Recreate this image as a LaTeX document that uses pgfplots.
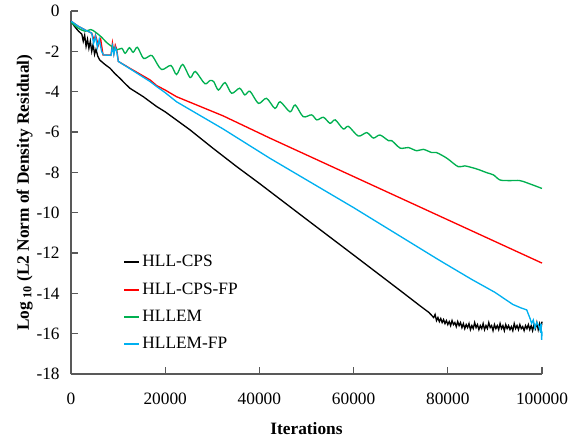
\documentclass[border=0pt]{standalone}
\usepackage{fontspec}
\setmainfont{Liberation Serif}
\usepackage{pgfplots}
\pgfplotsset{compat=1.18}
\definecolor{emgreen}{HTML}{00B050}
\definecolor{cblue}{RGB}{0,176,240}
\definecolor{cred}{RGB}{255,0,0}
\definecolor{axgray}{RGB}{89,89,89}
\begin{document}
\begin{tikzpicture}
\begin{axis}[
  scale only axis, width=353.25pt, height=272.25pt,
  xmin=0, xmax=100000, ymin=-18, ymax=0,
  axis lines*=left,
  axis line style={axgray, line width=1.1pt},
  tick align=inside,
  xtick pos=bottom, ytick pos=left,
  major tick length=5pt,
  tick style={axgray, line width=0.8pt},
  xtick={0,20000,40000,60000,80000,100000},
  xticklabels={0,20000,40000,60000,80000,100000},
  ytick={-18,-16,-14,-12,-10,-8,-6,-4,-2,0},
  yticklabels={-18,-16,-14,-12,-10,-8,-6,-4,-2,0},
  scaled x ticks=false,
  tick label style={font=\fontsize{13}{15}\selectfont, black},
  xticklabel style={yshift=-11pt},
  yticklabel style={xshift=-5pt},
  xlabel={Iterations},
  ylabel={Log\,\textsubscript{10} (L2 Norm of Density Residual)},
  label style={font=\fontsize{13}{15}\selectfont\bfseries},
  xlabel style={yshift=-6pt},
  ylabel style={yshift=-4pt},
  legend style={draw=none, fill=none, at={(0.11,0.335)}, anchor=north west,
    font=\fontsize{13}{15}\selectfont, row sep=6.5pt, inner sep=0pt},
  legend cell align=left,
  legend image code/.code={\draw[line width=1.5pt, #1] (0pt,0pt) -- (11pt,0pt);},
  clip=false,
]
\addlegendimage{draw=black}
\addlegendentry{HLL-CPS}
\addlegendimage{draw=cred}
\addlegendentry{HLL-CPS-FP}
\addlegendimage{draw=emgreen}
\addlegendentry{HLLEM}
\addlegendimage{draw=cblue}
\addlegendentry{HLLEM-FP}
\addplot[black, line width=1pt, forget plot] coordinates {
(0,-0.5) (800,-0.78) (1600,-1.0) (2300,-1.15) (2600,-1.5) (2900,-1.2) (3200,-1.75) (3500,-1.4)
(3800,-1.85) (4100,-1.5) (4400,-2.0) (4700,-1.65) (5000,-2.15) (5300,-1.9) (5700,-2.25) (6100,-2.43)
(7200,-2.65) (8300,-2.84) (9300,-3.1) (10400,-3.34) (11400,-3.58) (12500,-3.83) (14000,-4.05)
(15350,-4.25) (16800,-4.5) (18200,-4.74) (20000,-5.0) (25300,-5.9) (30000,-6.78) (35200,-7.72) (40000,-8.55)
(50000,-10.33) (60000,-12.1) (70000,-13.88) (74000,-14.6) (76000,-14.95)
(77000,-15.2) (77300,-15.05) (77600,-15.35) (77900,-15.2) (78200,-15.4) (78500,-15.25) (78800,-15.45)
(79100,-15.3) (79400,-15.5) (79700,-15.35) (80000,-15.55) (80300,-15.4) (80600,-15.6) (80900,-15.35)
(81200,-15.55) (81500,-15.45) (81800,-15.65) (82100,-15.4) (82400,-15.6) (82700,-15.45) (83000,-15.7)
(83300,-15.5) (83600,-15.75) (83900,-15.55) (84200,-15.7) (84500,-15.5) (84800,-15.8) (85100,-15.6)
(85400,-15.75) (85700,-15.45) (86000,-15.7) (86300,-15.55) (86600,-15.8) (86900,-15.6) (87200,-15.75)
(87500,-15.5) (87800,-15.8) (88100,-15.6) (88400,-15.75) (88700,-15.45) (89000,-15.7) (89300,-15.6)
(89600,-15.85) (89900,-15.55) (90200,-15.75) (90500,-15.6) (90800,-15.8) (91100,-15.5) (91400,-15.75)
(91700,-15.6) (92000,-15.85) (92300,-15.55) (92600,-15.75) (92900,-15.6) (93200,-15.8) (93500,-15.65)
(93800,-15.85) (94100,-15.5) (94400,-15.75) (94700,-15.6) (95000,-15.8) (95300,-15.55) (95600,-15.75)
(95900,-15.65) (96200,-15.85) (96500,-15.6) (96800,-15.75) (97100,-15.55) (97400,-15.8) (97700,-15.6)
(98000,-15.85) (98300,-15.55) (98600,-15.75) (98900,-15.45) (99200,-15.8) (99500,-15.5) (99800,-15.75)
(100000,-15.4)
};
\addplot[cred, line width=1pt, forget plot] coordinates {
(0,-0.5) (1500,-0.75) (3000,-0.94) (4400,-1.1) (4900,-1.45) (5200,-1.2) (5800,-1.7) (6300,-1.4)
(6800,-2.18) (8500,-2.18) (8800,-1.6) (9100,-2.1) (9400,-1.7) (9700,-1.9) (10050,-2.5)
(12500,-2.84) (16800,-3.42) (18200,-3.7) (20000,-3.92) (22400,-4.25) (32300,-5.2) (42200,-6.3) (100000,-12.5)
};
\addplot[emgreen, line width=1pt, smooth, tension=0.5, forget plot] coordinates {
(0,-0.55) (1500,-0.85) (3000,-1.0) (4200,-0.92) (5200,-1.05) (6500,-1.3) (7500,-1.55) (8600,-1.75)
(9800,-1.92) (10800,-1.85) (11500,-2.1) (12400,-1.82) (13200,-2.05) (14100,-1.8) (15400,-2.35)
(16900,-2.2) (17500,-2.3) (19200,-2.9) (21200,-2.7) (22400,-3.15) (23700,-2.65) (25300,-3.3)
(26400,-3.0) (28400,-3.6) (29500,-3.45) (30300,-3.5) (31300,-3.92) (32700,-3.55) (34100,-4.08)
(35800,-3.83) (36900,-4.16) (38000,-3.98) (39800,-4.58) (41500,-4.33) (43300,-4.83) (44400,-4.5)
(46500,-5.0) (47600,-4.66) (49300,-5.24) (51100,-5.15) (52200,-5.4) (53600,-5.27) (55000,-5.57)
(56100,-5.4) (57800,-5.85) (58900,-5.72) (61000,-6.2) (62800,-6.03) (64200,-6.3) (65600,-6.15)
(67400,-6.43) (68100,-6.43) (69900,-6.8) (71600,-6.77) (73400,-6.93) (74800,-6.86) (76600,-7.02)
(77600,-7.02) (79800,-7.3) (82200,-7.72) (83600,-7.68) (86100,-7.83) (88300,-8.02) (89700,-8.13)
(91100,-8.38) (93200,-8.41) (95300,-8.41) (97500,-8.58) (100000,-8.8)
};
\addplot[cblue, line width=1pt, forget plot] coordinates {
(0,-0.5) (1500,-0.75) (3000,-0.94) (4400,-1.1) (4800,-1.6) (5200,-1.25) (5600,-1.8) (6000,-1.4)
(6500,-2.0) (6900,-2.18) (8500,-2.2) (8800,-1.75) (9100,-2.15) (9400,-1.8) (9700,-2.0) (10050,-2.5)
(12500,-2.86) (16800,-3.5) (18200,-3.75) (20000,-4.05) (22400,-4.5) (32300,-5.85) (42200,-7.3)
(60000,-9.75) (78000,-12.33) (85000,-13.3) (90000,-13.95) (93800,-14.55) (95500,-14.72) (96750,-14.82)
(97450,-15.24) (97800,-15.49) (98150,-15.32) (98510,-15.73) (98870,-15.45) (99220,-15.57) (99580,-15.82)
(99800,-15.5) (99930,-16.31) (100000,-15.9)
};
\coordinate (bl) at (rel axis cs:0,0);
\coordinate (tr) at (rel axis cs:1,1);
\end{axis}
\pgfresetboundingbox
\path ([shift={(-53.25pt,-48.75pt)}]bl) rectangle ([shift={(20.25pt,8.25pt)}]tr);
\end{tikzpicture}
\end{document}
